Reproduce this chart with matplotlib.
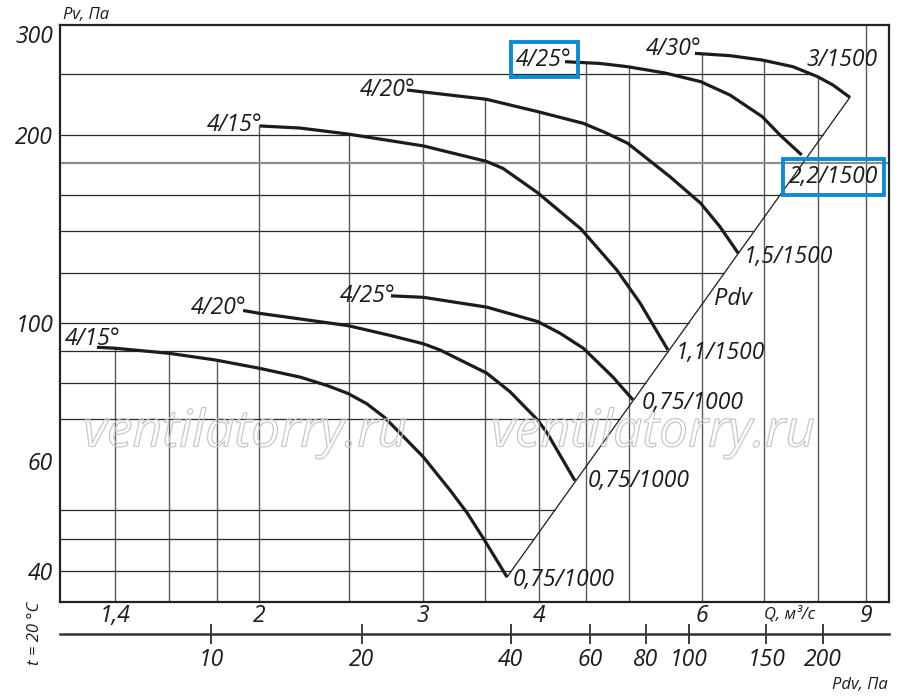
import matplotlib.pyplot as plt
import matplotlib.patheffects as pe
import matplotlib.ticker as mticker
import numpy as np

plt.rcParams["font.family"] = ["Open Sans", "DejaVu Sans"]
plt.rcParams["font.style"] = "italic"

### Data ###
# frame limits
q_lim = (1.22, 9.54)
p_lim = (35.7, 300)

q_ticks = [1.4, 2, 3, 4, 6, 9]
q_tick_labels = ["1,4", "2", "3", "4", "6", "9"]
p_ticks = [40, 60, 100, 200, 300]
p_tick_labels = ["40", "60", "100", "200", "300"]

# dynamic pressure scale: Pdv value and the flow Q it sits under
pdv_ticks = [10, 20, 40, 60, 80, 100, 150, 200]
pdv_at_q = [1.774, 2.578, 3.730, 4.540, 5.217, 5.804, 7.030, 8.098]

grid_q = [1.4, 1.6, 1.8, 2, 2.5, 3, 3.5, 4, 4.5, 5, 6, 7, 8, 9]
grid_p = [40, 45, 50, 70, 80, 90, 100, 120, 140, 160, 200, 250]
grid_p_full = [180]

# fan curves, Q in m3/s, Pv in Pa
q_415_low = [1.337, 1.398, 1.599, 1.796, 2.000, 2.212, 2.366, 2.492, 2.612, 2.731, 3.004, 3.209, 3.347, 3.483, 3.697]
p_415_low = [91.3, 91.0, 89.3, 87.1, 84.5, 81.8, 79.3, 77.0, 74.1, 70.4, 60.9, 53.9, 49.6, 45.2, 39.1]

q_420_low = [1.921, 2.000, 2.158, 2.492, 2.766, 3.004, 3.131, 3.515, 3.724, 3.989, 4.082, 4.375]
p_420_low = [104.6, 103.5, 101.9, 98.9, 95.4, 92.5, 90.4, 83.0, 77.5, 69.8, 66.6, 55.8]

q_425_low = [2.772, 3.004, 3.515, 3.989, 4.215, 4.466, 4.807, 5.052]
p_425_low = [110.4, 109.8, 105.9, 100.4, 96.2, 91.0, 81.8, 75.2]

q_415_high = [2.000, 2.212, 2.492, 3.004, 3.510, 3.660, 3.989, 4.441, 4.852, 5.140, 5.510]
p_415_high = [206.7, 205.1, 200.6, 192.0, 181.4, 176.7, 161.5, 141.3, 121.5, 107.6, 90.4]

q_420_high = [2.885, 3.004, 3.510, 3.989, 4.466, 4.713, 4.986, 5.537, 5.975, 6.268, 6.559]
p_420_high = [236.0, 234.3, 228.1, 217.9, 208.7, 201.8, 193.9, 171.4, 155.4, 142.5, 129.2]

q_425_high = [4.268, 4.655, 4.986, 5.469, 5.975, 6.425, 6.961, 7.274, 7.676]
p_425_high = [262.0, 260.3, 257.2, 251.3, 243.4, 231.7, 213.9, 199.9, 185.7]

q_430 = [5.891, 6.425, 6.961, 7.512, 7.986, 8.295, 8.652]
p_430 = [270.2, 267.9, 263.6, 257.2, 247.9, 240.4, 229.7]

angle_labels = ["4/15°", "4/20°", "4/25°", "4/15°", "4/20°", "4/25°", "4/30°"]
motor_labels = ["0,75/1000", "0,75/1000", "0,75/1000", "1,1/1500", "1,5/1500", "2,2/1500", "3/1500"]
### End of data ###

curves = [
    (q_415_low, p_415_low),
    (q_420_low, p_420_low),
    (q_425_low, p_425_low),
    (q_415_high, p_415_high),
    (q_420_high, p_420_high),
    (q_425_high, p_425_high),
    (q_430, p_430),
]

# label offsets in pixels (start label: right/baseline, end label: left/baseline)
start_offsets = [(24, 2), (3, -4), (5, -6), (3, -5), (8, -6), (7, -4), (7, -2)]
end_offsets = [(6, -9), (13, -6), (9, -9), (8, -9), (5, -10), (-13, -28), (-43, 31)]
boxed_start = {5}
boxed_end = {5}

ink = "#1c1c1c"
blue = "#0a8ad8"
fs = 16.5

fig = plt.figure(figsize=(9, 6.96), dpi=100)
ax = fig.add_axes([60 / 900, 94.3 / 696, 829.3 / 900, 576.7 / 696])
ax.set_xscale("log")
ax.set_yscale("log")
ax.set_xlim(*q_lim)
ax.set_ylim(*p_lim)


def curve_value(q, qs, ps):
    if q < qs[0] - 1e-9 or q > qs[-1] + 1e-9:
        return np.nan
    return np.exp(np.interp(np.log(q), np.log(qs), np.log(ps)))


# diagonal Pdv line through the curve end points
diag_q = [q_415_low[-1], q_430[-1]]
diag_p = [p_415_low[-1], p_430[-1]]


def right_end(p):
    if p <= diag_p[1]:
        return np.exp(np.interp(np.log(p), np.log(diag_p), np.log(diag_q)))
    return np.exp(np.interp(np.log(p), np.log(p_430[::-1]), np.log(q_430[::-1])))


# grid only under the envelope of the curves
for q in grid_q:
    vals = [curve_value(q, qs, ps) for qs, ps in curves]
    top = np.nanmax(vals) if not np.all(np.isnan(vals)) else p_lim[1]
    ax.vlines(q, p_lim[0], top, color="#5a5a5a", lw=1.0, zorder=1)
for p in grid_p:
    ax.hlines(p, q_lim[0], right_end(p), color="#2a2a2a", lw=0.9, zorder=1)
for p in grid_p_full:
    ax.hlines(p, q_lim[0], q_lim[1], color="#8a8a8a", lw=1.6, zorder=1)

ax.plot(diag_q, diag_p, color=ink, lw=0.9, zorder=2)

for i, (qs, ps) in enumerate(curves):
    ax.plot(qs, ps, color=ink, lw=2.3, solid_capstyle="butt", solid_joinstyle="round", zorder=3)
    box = dict(boxstyle="square,pad=0.25", fc="none", ec=blue, lw=2.8)
    ax.annotate(angle_labels[i], (qs[0], ps[0]), xytext=start_offsets[i],
                textcoords="offset pixels", ha="right", va="baseline",
                fontsize=fs, color=ink, zorder=4,
                bbox=box if i in boxed_start else None)
    ax.annotate(motor_labels[i], (qs[-1], ps[-1]), xytext=end_offsets[i],
                textcoords="offset pixels", ha="left", va="baseline",
                fontsize=fs, color=ink, zorder=4,
                bbox=box if i in boxed_end else None)

mid_q = np.sqrt(diag_q[0] * diag_q[1])
mid_p = np.sqrt(diag_p[0] * diag_p[1])
ax.annotate("Pdv", (mid_q, mid_p), xytext=(54, 38), textcoords="offset pixels",
            ha="center", va="center", fontsize=17, color=ink)

# axes styling
for s in ax.spines.values():
    s.set_linewidth(1.6)
    s.set_color("#222222")
ax.xaxis.set_minor_locator(mticker.NullLocator())
ax.yaxis.set_minor_locator(mticker.NullLocator())
ax.set_xticks(q_ticks, labels=q_tick_labels)
ax.set_yticks(p_ticks, labels=p_tick_labels)
ax.tick_params(axis="x", length=0, pad=2, labelsize=fs, colors=ink)
ax.tick_params(axis="y", length=0, pad=5, labelsize=fs, colors=ink)
ax.get_yticklabels()[-1].set_verticalalignment("top")

# Pdv scale under the Q axis
lq = np.log(pdv_at_q)
lp = np.log(pdv_ticks)
lq_ext = np.r_[lq[0] - 3, lq, lq[-1] + 3]
lp_ext = np.r_[lp[0] - 6, lp, lp[-1] + 6]


def q_to_pdv(q):
    q = np.clip(np.asarray(q, float), 1e-9, None)
    return np.exp(np.interp(np.log(q), lq_ext, lp_ext))


def pdv_to_q(p):
    p = np.clip(np.asarray(p, float), 1e-9, None)
    return np.exp(np.interp(np.log(p), lp_ext, lq_ext))


sec = ax.secondary_xaxis(-0.056, functions=(q_to_pdv, pdv_to_q))
sec.set_xticks(pdv_ticks, labels=[str(v) for v in pdv_ticks])
sec.xaxis.set_minor_locator(mticker.NullLocator())
sec.tick_params(direction="inout", length=14, width=1.2, pad=3, labelsize=fs, colors=ink)
for s in sec.spines.values():
    s.set_linewidth(1.8)
    s.set_color("#333333")

# captions
fig.text(63 / 900, 1 - 19 / 696, "Pv, Па", fontsize=12, color=ink, ha="left", va="baseline")
fig.text(790 / 900, 1 - 614 / 696, "Q, м³/с", fontsize=12, color=ink, ha="center", va="center")
fig.text(888 / 900, 1 - 689 / 696, "Pdv, Па", fontsize=12, color=ink, ha="right", va="baseline")
fig.text(35 / 900, 1 - 633 / 696, "t = 20 °C", fontsize=12, color=ink, rotation=90,
         ha="center", va="center")

# watermark
for xc in (245, 653):
    fig.text(xc / 900, 1 - 433 / 696, "ventilatorry.ru", fontsize=37, color=(1, 1, 1, 0),
             ha="center", va="center", zorder=5,
             path_effects=[pe.Stroke(linewidth=0.9, foreground="#c8c8c8")])

fig.savefig("out.png", dpi=100)
